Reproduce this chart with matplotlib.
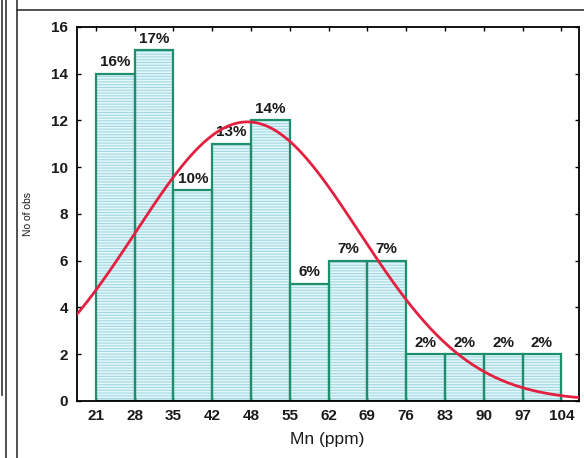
import matplotlib.pyplot as plt
import numpy as np
from matplotlib.lines import Line2D

plt.rcParams['font.family'] = ['Liberation Sans', 'DejaVu Sans']

# histogram of Mn (ppm)
edges_lo = 21.0
edges_hi = 104.0
counts = [14, 15, 9, 11, 12, 5, 6, 6, 2, 2, 2, 2]
pct_labels = ["16%", "17%", "10%", "13%", "14%", "6%", "7%", "7%", "2%", "2%", "2%", "2%"]
tick_labels = ["21", "28", "35", "42", "48", "55", "62", "69", "76", "83", "90", "97", "104"]

nbins = len(counts)
edges = np.linspace(edges_lo, edges_hi, nbins + 1)
w = edges[1] - edges[0]
mids = edges[:-1] + w / 2

fig = plt.figure(figsize=(5.84, 4.58), dpi=100)
ax = fig.add_axes([0.131, 0.1245, 0.860, 0.817])

# fill with horizontal hatch lines, then teal outlines on top
plt.rcParams['hatch.linewidth'] = 0.8
ax.bar(edges[:-1], counts, width=w, align='edge', facecolor='#e2f7f7',
       edgecolor='#a4d6e6', hatch='------', linewidth=0, zorder=1)
ax.bar(edges[:-1], counts, width=w, align='edge', facecolor='none',
       edgecolor='#1d8f6c', linewidth=1.6, zorder=2)

for x, c, lab in zip(mids, counts, pct_labels):
    ax.text(x, c + 0.2, lab, ha='center', va='bottom', fontsize=11,
            fontweight='bold', color='#1a1a1a', zorder=3)

# expected normal curve from binned data
n = sum(counts)
mu = np.sum(np.array(counts) * mids) / n
sd = np.sqrt(np.sum(np.array(counts) * (mids - mu) ** 2) / n)
xs = np.linspace(10, 115, 400)
ys = n * w / (sd * np.sqrt(2 * np.pi)) * np.exp(-0.5 * ((xs - mu) / sd) ** 2)
ax.plot(xs, ys, color='#e3203f', linewidth=2, zorder=4)

ax.set_xlim(edges_lo - 0.5 * w, edges_hi + 0.45 * w)
ax.set_ylim(0, 16)
ax.set_xticks(edges)
ax.set_xticklabels(tick_labels)
ax.set_yticks(range(0, 17, 2))
ax.tick_params(direction='in', length=3, width=1, top=True, right=True,
               labelsize=11, pad=6)
for lab in ax.get_xticklabels() + ax.get_yticklabels():
    lab.set_fontweight('bold')
    lab.set_color('#1a1a1a')
for s in ax.spines.values():
    s.set_linewidth(1.3)

ax.set_xlabel("Mn (ppm)", fontsize=12.5, labelpad=6, color='#1a1a1a')
ax.set_ylabel("No of obs", fontsize=7.5, color='#1a1a1a')
ax.yaxis.set_label_coords(-0.087, 0.5)

# surrounding page frame lines
for xp, y0 in [(2, 63), (6, 0), (17, 0)]:
    fig.add_artist(Line2D([xp / 584, xp / 584], [y0 / 458, 1], color='#333333',
                          linewidth=1.2, transform=fig.transFigure))
fig.add_artist(Line2D([17 / 584, 1], [1 - 10 / 458, 1 - 10 / 458], color='#333333',
                      linewidth=1.2, transform=fig.transFigure))

fig.savefig("out.png", dpi=100)
